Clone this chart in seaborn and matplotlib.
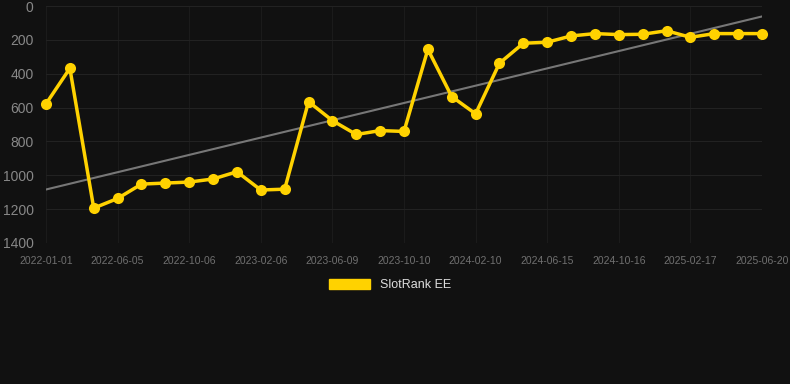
import numpy as np
import pandas as pd
import matplotlib
matplotlib.use("Agg")
import matplotlib.pyplot as plt
import seaborn as sns
from matplotlib.patches import Patch

# Data
tick_labels = ["2022-01-01", "2022-06-05", "2022-10-06", "2023-02-06", "2023-06-09",
               "2023-10-10", "2024-02-10", "2024-06-15", "2024-10-16", "2025-02-17",
               "2025-06-20"]
rank = [578, 368, 1194, 1137, 1052, 1046, 1040, 1022, 979, 1087,
        1082, 565, 677, 759, 736, 741, 256, 535, 637, 338,
        220, 214, 177, 163, 169, 167, 146, 185, 163, 163, 163]
series_name = "SlotRank EE"

bg = "#111111"
gold = "#FFD200"

sns.set_theme(style="dark")
plt.rcParams['font.family'] = ['Liberation Sans', 'DejaVu Sans']

df = pd.DataFrame({"idx": np.arange(len(rank)), "rank": rank})

fig = plt.figure(figsize=(7.9, 3.84), dpi=100, facecolor=bg)
ax = fig.add_axes([46 / 790, 1 - 243 / 384, 716 / 790, 237 / 384])
ax.set_facecolor(bg)

# trend line (least squares)
coef = np.polyfit(df["idx"], df["rank"], 1)
ax.plot(df["idx"], np.polyval(coef, df["idx"]), color="#777777", lw=1.5, zorder=2)

sns.lineplot(data=df, x="idx", y="rank", ax=ax, color=gold, lw=2.5,
             marker="o", markersize=8, markeredgewidth=0, zorder=3, clip_on=False)

ax.set_xlim(0, len(rank) - 1)
ax.set_ylim(1400, 0)
ax.set_yticks(range(0, 1401, 200))
ax.set_xticks(range(0, len(rank), 3))
ax.set_xticklabels(tick_labels)
ax.set_xlabel("")
ax.set_ylabel("")
ax.tick_params(axis="y", colors="#888888", labelsize=10, length=0, pad=9)
ax.tick_params(axis="x", colors="#707070", labelsize=7.5, length=0, pad=9)
ax.grid(True, axis="y", color="#222222", lw=0.8)
ax.grid(True, axis="x", color="#1b1b1b", lw=0.8)
for s in ax.spines.values():
    s.set_visible(False)

fig.legend(handles=[Patch(color=gold)], labels=[series_name], loc="center",
           bbox_to_anchor=(390 / 790, 1 - 285 / 384), frameon=False,
           handlelength=3.3, handleheight=0.9, fontsize=9, labelcolor="#dddddd")

fig.savefig("out.png", dpi=100, facecolor=bg)
